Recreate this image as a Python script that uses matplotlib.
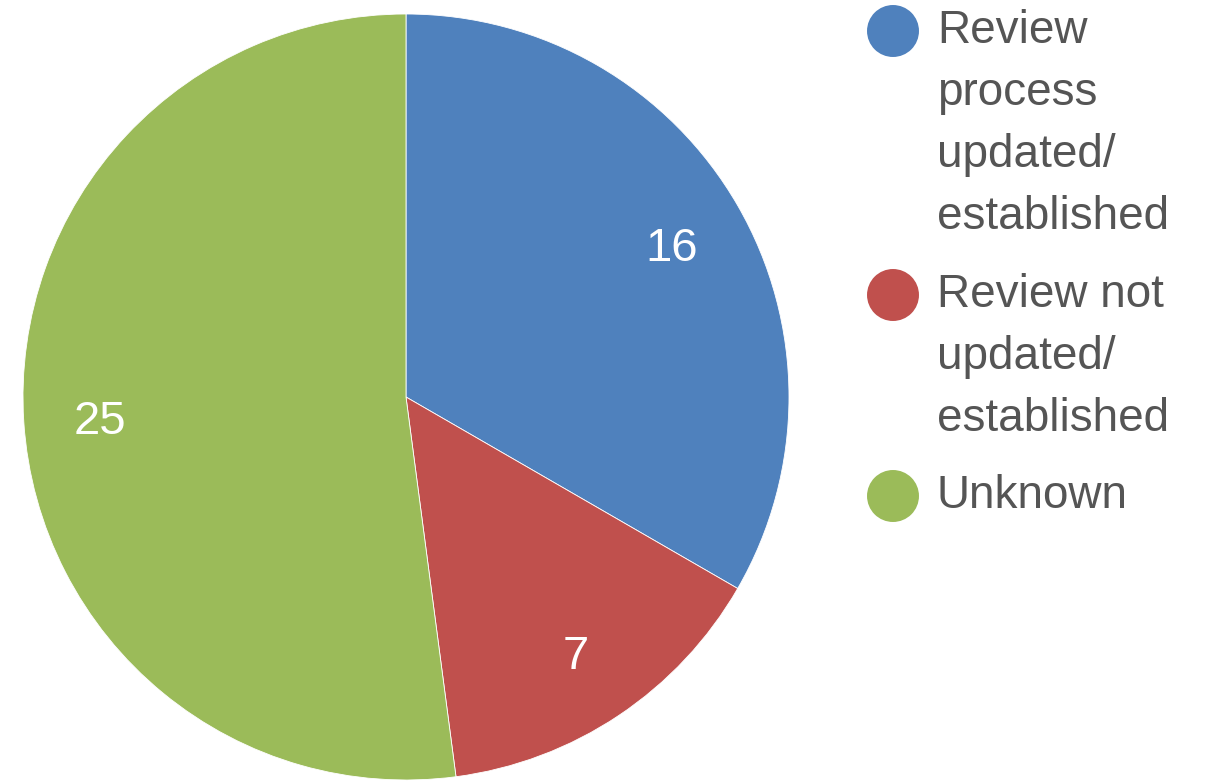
import matplotlib
matplotlib.use("Agg")
import matplotlib.pyplot as plt

plt.rcParams["font.family"] = ["Liberation Sans", "DejaVu Sans"]

labels = [
    "Review\nprocess\nupdated/\nestablished",
    "Review not\nupdated/\nestablished",
    "Unknown",
]
counts = [16, 7, 25]
colors = ["#4f81bd", "#c0504d", "#9bbb59"]

W, H = 1211, 783
fig = plt.figure(figsize=(W / 100, H / 100), dpi=100)

# pie axes: centre (406, 397) px from top-left, radius 383 px
cx, cy, r = 406, 397, 383
ax = fig.add_axes([(cx - r) / W, (H - cy - r) / H, 2 * r / W, 2 * r / H])
ax.pie(
    counts,
    colors=colors,
    startangle=90,
    counterclock=False,
    radius=1.0,
    labels=[str(c) for c in counts],
    labeldistance=0.8,
    textprops=dict(color="white", fontsize=34, ha="center", va="center_baseline"),
    wedgeprops=dict(edgecolor="white", linewidth=0.6),
)
ax.set_xlim(-1, 1)
ax.set_ylim(-1, 1)
ax.set_aspect("equal")
ax.axis("off")

# legend drawn in pixel coordinates
lax = fig.add_axes([0, 0, 1, 1], zorder=3)
lax.set_xlim(0, W)
lax.set_ylim(H, 0)
lax.axis("off")

first_baselines = [43, 307, 508]
line_step = 62
for lab, col, y0 in zip(labels, colors, first_baselines):
    lax.scatter([893], [y0 - 12], s=1400, color=col, edgecolors="none")
    for i, line in enumerate(lab.split("\n")):
        lax.text(937, y0 + i * line_step, line, fontsize=33, color="#555555",
                 ha="left", va="baseline")

fig.savefig("out.png", dpi=100)
